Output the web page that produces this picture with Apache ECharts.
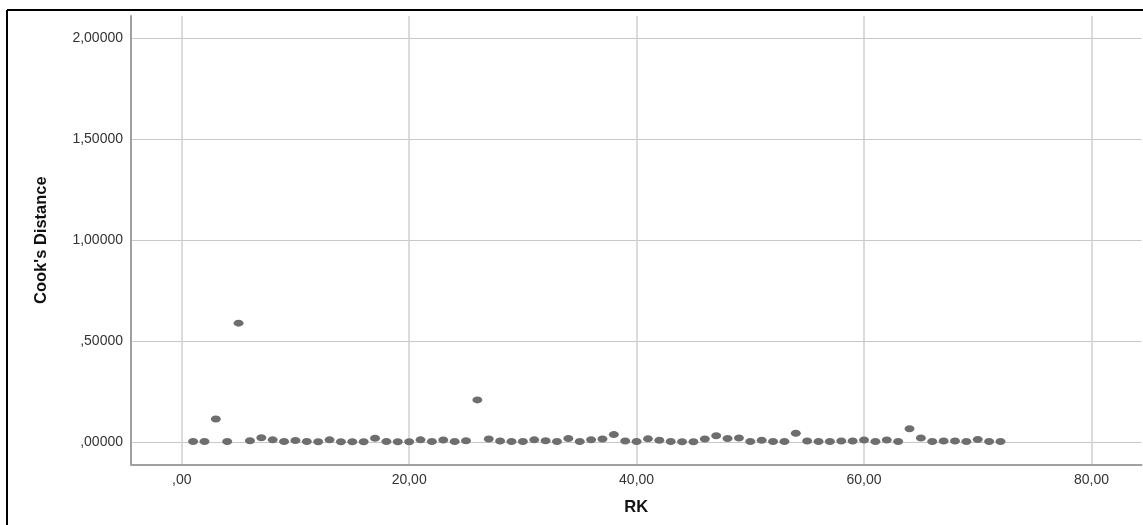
<!DOCTYPE html>
<html>
<head>
<meta charset="utf-8">
<script src="https://cdn.jsdelivr.net/npm/echarts@6/dist/echarts.min.js"></script>
<style>
html,body{margin:0;padding:0;background:#fff;}
#c{width:1143px;height:525px;}
</style>
</head>
<body>
<div id="c"></div>
<script>
const rk = [1,2,3,4,5,6,7,8,9,10,11,12,13,14,15,16,17,18,19,20,21,22,23,24,25,26,27,28,29,30,31,32,33,34,35,36,
  37,38,39,40,41,42,43,44,45,46,47,48,49,50,51,52,53,54,55,56,57,58,59,60,61,62,63,64,65,66,67,68,69,70,71,72];
const cooksDistance = [0.003,0.003,0.114,0.003,0.589,0.007,0.021,0.011,0.003,0.008,0.003,0.002,0.011,0.002,0.002,0.002,
  0.019,0.003,0.002,0.002,0.011,0.003,0.010,0.003,0.007,0.209,0.015,0.005,0.003,0.003,0.011,0.007,0.003,0.018,0.003,0.012,
  0.015,0.037,0.005,0.003,0.016,0.009,0.003,0.002,0.002,0.015,0.031,0.018,0.020,0.003,0.009,0.003,0.003,0.044,0.005,0.003,
  0.003,0.005,0.005,0.010,0.003,0.010,0.003,0.066,0.020,0.003,0.005,0.005,0.003,0.013,0.003,0.003];
const xTicks = [0,20,40,60,80];
const yTicks = [0,0.5,1,1.5,2];
const xTitle = 'RK';
const yTitle = "Cook's Distance";

const chart = echarts.init(document.getElementById('c'), null, {renderer:'canvas'});
const fmtY = v => { let s = v.toFixed(5).replace('.', ','); return s.startsWith('0') ? s.slice(1) : s; };
const fmtX = v => { let s = v.toFixed(2).replace('.', ','); return s.startsWith('0') ? s.slice(1) : s; };
const tickFont = {fontFamily:'Liberation Sans, Arial, sans-serif', fontSize:14, color:'#333'};

chart.setOption({
  animation:false,
  backgroundColor:'#fff',
  graphic:[
    {type:'line', shape:{x1:7, y1:10, x2:1143, y2:10}, style:{stroke:'#000', lineWidth:2}},
    {type:'line', shape:{x1:7, y1:10, x2:7, y2:525}, style:{stroke:'#000', lineWidth:2}}
  ],
  grid:{left:131, right:1.5, top:16, bottom:60.7, containLabel:false},
  xAxis:{
    type:'value', min:-4.46, max:84.4,
    name:xTitle, nameLocation:'middle', nameGap:35,
    nameTextStyle:{fontFamily:'Liberation Sans, Arial, sans-serif', fontSize:16.5, fontWeight:'bold', color:'#111'},
    axisLine:{show:true, onZero:false, lineStyle:{color:'#a0a0a0', width:2}},
    axisTick:{show:false, customValues:xTicks},
    axisLabel:Object.assign({customValues:xTicks, formatter:fmtX, margin:9}, tickFont),
    splitLine:{show:true, lineStyle:{color:'#cfcfcf', width:1.5}}
  },
  yAxis:{
    type:'value', min:-0.11, max:2.11,
    name:yTitle, nameLocation:'middle', nameGap:81, nameRotate:90,
    nameTextStyle:{fontFamily:'Liberation Sans, Arial, sans-serif', fontSize:16.5, fontWeight:'bold', color:'#111'},
    axisLine:{show:true, onZero:false, lineStyle:{color:'#a0a0a0', width:2}},
    axisTick:{show:false, customValues:yTicks},
    axisLabel:Object.assign({customValues:yTicks, formatter:fmtY, margin:8}, tickFont),
    splitLine:{show:true, lineStyle:{color:'#c8c8c8', width:1}}
  },
  series:[{
    type:'scatter',
    data:rk.map((x,i)=>[x, cooksDistance[i]]),
    symbol:'circle',
    symbolSize:[10,7],
    itemStyle:{color:'#6e6e6e', opacity:1}
  }]
});
</script>
</body>
</html>
